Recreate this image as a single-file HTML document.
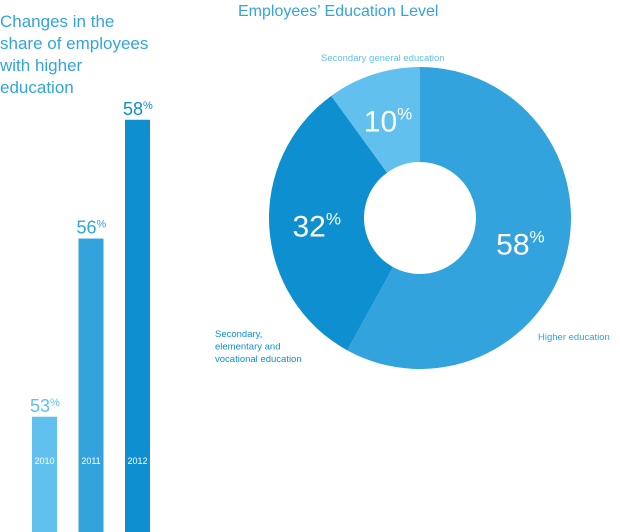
<!DOCTYPE html>
<html><head><meta charset="utf-8"><style>
body{margin:0;width:620px;height:532px;background:#fff;overflow:hidden;font-family:"Liberation Sans",sans-serif;}
svg{position:absolute;left:0;top:0}
</style></head><body>
<svg width="620" height="532">
<text x="0" y="27" font-size="17" fill="#33a4dc"><tspan x="0">Changes in the</tspan><tspan x="0" dy="22">share of employees</tspan><tspan x="0" dy="22">with higher</tspan><tspan x="0" dy="22">education</tspan></text>
<text x="238" y="16" font-size="16" fill="#33a4dc">Employees’ Education Level</text>
<g id="bars"></g><g id="donut"></g>
</svg>
<script>
const years=["2010","2011","2012"];
const shares=[53,56,58];
const slices=["Higher education","Secondary, elementary and vocational education","Secondary general education"];
const sliceValues=[58,32,10];
const ns="http://www.w3.org/2000/svg";
function mk(t,a,p){const e=document.createElementNS(ns,t);for(const k in a)e.setAttribute(k,a[k]);p.appendChild(e);return e;}
const barCols=["#62c0ee","#32a3dc","#0e8fd0"];
const yBase=532,vMin=51.06,pxPer=59.4;
function y(v){return yBase-(v-vMin)*pxPer;}
function x(i){return 32+i*46.5;}
const bg=document.getElementById('bars');
years.forEach((yr,i)=>{
 const r=mk('rect',{x:x(i),y:y(shares[i]),width:25,height:yBase-y(shares[i]),fill:barCols[i]},bg);
 
 
 const t=mk('text',{x:x(i)+12.5,y:464,'font-size':9,fill:'#fff','text-anchor':'middle'},bg);t.textContent=yr;
 
 
 const v=mk('text',{x:x(i)-2,y:y(shares[i])-5,'font-size':18,fill:barCols[i]},bg);
 v.innerHTML=shares[i]+'<tspan font-size="11" dy="-6">%</tspan>';
 
 
});
const dg=document.getElementById('donut');
const cx=420,cy=218,R=151,r0=56;
const sCols=["#32a3dc","#0e8fd0","#62c0ee"];
const total=sliceValues.reduce((a,b)=>a+b,0);
let a0=-Math.PI/2;
const lblPos=[[0.7],[0.7],[0.7]];
sliceValues.forEach((v,i)=>{
 const a1=a0+v/total*2*Math.PI,lg=(a1-a0)>Math.PI?1:0;
 const p=(a,r)=>[cx+r*Math.cos(a),cy+r*Math.sin(a)];
 const [x1,y1]=p(a0,R),[x2,y2]=p(a1,R),[x3,y3]=p(a1,r0),[x4,y4]=p(a0,r0);
 const s=mk('path',{d:`M${x1},${y1}A${R},${R} 0 ${lg} 1 ${x2},${y2}L${x3},${y3}A${r0},${r0} 0 ${lg} 0 ${x4},${y4}Z`,fill:sCols[i]},dg);
 
 
 const am=(a0+a1)/2,rr=i==2?0.73:0.66;
 const [lx,ly]=p(am,(R+r0)/2+ (i==0?-5:0));
 const t=mk('text',{x:lx-(i==0?-5:0),y:ly+12,'font-size':30,fill:'#fff','text-anchor':'middle'},dg);
 t.innerHTML=v+'<tspan font-size="17" dy="-12">%</tspan>';
 
 
 a0=a1;
});
const labs=[{x:538,y:340,a:'start',l:["Higher education"]},{x:215,y:337,a:'start',l:["Secondary,","elementary and","vocational education"]},{x:321,y:61,a:'start',l:["Secondary general education"]}];
labs.forEach((L,i)=>{
 const t=mk('text',{x:L.x,y:L.y,'font-size':9.5,fill:sCols[i]},dg);
 t.innerHTML=L.l.map((s,j)=>`<tspan x="${L.x}" dy="${j?12.5:0}">${s}</tspan>`).join('');
 
 
});
</script>
</body></html>
